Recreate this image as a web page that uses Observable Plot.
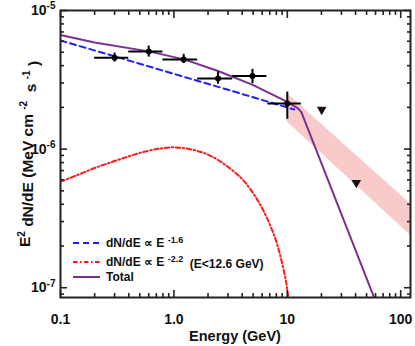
<!DOCTYPE html>
<html>
<head>
<meta charset="utf-8">
<script src="https://cdn.jsdelivr.net/npm/d3@7"></script>
<script src="https://cdn.jsdelivr.net/npm/@observablehq/plot@0.6"></script>
<style>
  body { margin: 0; background: #fff; }
  #chart { width: 415px; height: 346px; }
</style>
</head>
<body>
<div id="chart"></div>
<script>
// ---- tick definitions ----
const xMajor = [0.1, 1, 10, 100];
const xTickLabels = ["0.1", "1.0", "10", "100"];
const xMinor = [0.2, 0.3, 0.4, 0.5, 0.6, 0.7, 0.8, 0.9, 2, 3, 4, 5, 6, 7, 8, 9, 20, 30, 40, 50, 60, 70, 80, 90];
const yMajor = [1e-7, 1e-6, 1e-5];
const yTickExponents = ["-7", "-6", "-5"];
const yMinor = [9e-8, 2e-7, 3e-7, 4e-7, 5e-7, 6e-7, 7e-7, 8e-7, 9e-7, 2e-6, 3e-6, 4e-6, 5e-6, 6e-6, 7e-6, 8e-6, 9e-6];

// ---- data points (GeV, MeV cm^-2 s^-1) ----
const pointE   = [0.30, 0.60, 1.22, 2.45, 4.93, 10.0];
const pointElo = [0.20, 0.40, 0.80, 1.62, 3.30, 6.75];
const pointEhi = [0.40, 0.80, 1.62, 3.30, 6.60, 13.3];
const pointF   = [4.57e-6, 5.07e-6, 4.44e-6, 3.23e-6, 3.37e-6, 2.13e-6];
const pointFlo = [4.25e-6, 4.61e-6, 4.14e-6, 2.94e-6, 2.97e-6, 1.64e-6];
const pointFhi = [4.93e-6, 5.54e-6, 4.83e-6, 3.60e-6, 3.76e-6, 2.58e-6];

// upper limits
const limitE = [20.1, 40.6];
const limitF = [1.93e-6, 5.72e-7];

// shaded band
const bandE  = [10, 122];
const bandLo = [1.57e-6, 2.39e-7];
const bandHi = [2.52e-6, 4.02e-7];

// blue dashed component
const blueE = [0.1, 0.3, 1.0, 3.0, 11.5];
const blueF = [6.08e-6, 4.67e-6, 3.49e-6, 2.68e-6, 1.93e-6];

// red dash-dot component
const redE = [0.1, 0.141, 0.197, 0.277, 0.389, 0.546, 0.767, 1.0, 1.51, 2.12, 2.99, 4.19, 5.89, 7.72, 8.85, 9.80, 10.3];
const redF = [5.82e-7, 6.50e-7, 7.27e-7, 8.02e-7, 8.80e-7, 9.57e-7, 1.01e-6, 1.03e-6, 9.84e-7, 8.91e-7, 7.46e-7, 5.82e-7, 3.85e-7, 2.34e-7, 1.59e-7, 1.08e-7, 8.0e-8];

// total
const totalE = [0.1, 0.2, 0.6, 1.23, 2.45, 4.9, 10.0, 12.5, 13.3, 60];
const totalF = [6.66e-6, 5.88e-6, 5.07e-6, 4.44e-6, 3.66e-6, 2.92e-6, 2.19e-6, 1.96e-6, 1.85e-6, 8.0e-8];

// ---- build tables ----
const points = pointE.map((E, i) => ({E, Elo: pointElo[i], Ehi: pointEhi[i], F: pointF[i], Flo: pointFlo[i], Fhi: pointFhi[i]}));
const limits = limitE.map((E, i) => ({E, F: limitF[i]}));
const band = bandE.map((E, i) => ({E, lo: bandLo[i], hi: bandHi[i]}));
const blue = blueE.map((E, i) => ({E, F: blueF[i]}));
const red = redE.map((E, i) => ({E, F: redF[i]}));
const total = totalE.map((E, i) => ({E, F: totalF[i]}));

const C = {frame: "#222", blue: "#1f1fff", red: "#ff1a1a", purple: "#7b2f8f", band: "#f8caca", pts: "#000", lim: "#1a1010"};
const redDash = "4.5,2.5,1.5,2.5";
const blueDash = "6,4";
const xLabelMap = new Map(xMajor.map((v, i) => [v, xTickLabels[i]]));
const yLabelMap = new Map(yMajor.map((v, i) => [v, "10^" + yTickExponents[i]]));

const tickStyle = {stroke: C.frame, strokeWidth: 1.6, tickFormat: () => "", label: null};

const plot = Plot.plot({
  width: 415,
  height: 346,
  marginLeft: 60,
  marginRight: 5,
  marginTop: 10,
  marginBottom: 49,
  style: {fontFamily: "'Liberation Sans', Arial, sans-serif", fontWeight: "bold", fontSize: "14px", color: "#111", background: "#fff"},
  x: {type: "log", domain: [0.1, 122]},
  y: {type: "log", domain: [8.5e-8, 1e-5]},
  marks: [
    Plot.areaY(band, {x: "E", y1: "lo", y2: "hi", fill: C.band, clip: true}),
    Plot.line(red, {x: "E", y: "F", stroke: C.red, strokeWidth: 2, strokeDasharray: redDash, curve: "catmull-rom", clip: true}),
    Plot.line(blue, {x: "E", y: "F", stroke: C.blue, strokeWidth: 2, strokeDasharray: blueDash, clip: true}),
    Plot.line(total, {x: "E", y: "F", stroke: C.purple, strokeWidth: 2, curve: "linear", clip: true}),
    Plot.ruleY(points, {y: "F", x1: "Elo", x2: "Ehi", stroke: C.pts, strokeWidth: 2}),
    Plot.ruleX(points, {x: "E", y1: "Flo", y2: "Fhi", stroke: C.pts, strokeWidth: 2}),
    Plot.dot(points, {x: "E", y: "F", fill: C.pts, r: 3}),
    Plot.dot(limits, {x: "E", y: "F", symbol: "triangle", rotate: 180, fill: C.lim, r: 3.6}),
    Plot.frame({stroke: C.frame, strokeWidth: 2}),
    Plot.axisX(xMajor, {anchor: "bottom", tickSize: -7, ...tickStyle}),
    Plot.axisX(xMinor, {anchor: "bottom", tickSize: -4, ...tickStyle}),
    Plot.axisX(xMajor, {anchor: "top", tickSize: -7, ...tickStyle}),
    Plot.axisX(xMinor, {anchor: "top", tickSize: -4, ...tickStyle}),
    Plot.axisY(yMajor, {anchor: "left", tickSize: -7, ...tickStyle}),
    Plot.axisY(yMinor, {anchor: "left", tickSize: -4, ...tickStyle}),
    Plot.axisY(yMajor, {anchor: "right", tickSize: -7, ...tickStyle}),
    Plot.axisY(yMinor, {anchor: "right", tickSize: -4, ...tickStyle}),
    Plot.axisX(xMajor, {anchor: "bottom", tickSize: 0, tickPadding: 17, tickFormat: d => xLabelMap.get(d), label: null, fill: "#111"}),
    Plot.axisY(yMajor, {anchor: "left", tickSize: 0, tickPadding: 5, tickFormat: d => yLabelMap.get(d), label: null, fill: "#111"})
  ]
});

document.getElementById("chart").appendChild(plot);

const svg = d3.select(plot);
// superscripts for y tick labels
svg.selectAll("text").each(function() {
  const t = d3.select(this);
  const s = t.text();
  if (s.startsWith("10^")) {
    const exp = s.slice(3);
    t.text("10");
    t.append("tspan").attr("dy", "-0.55em").attr("font-size", "10px").text(exp);
  }
});

const font = "'Liberation Sans', Arial, sans-serif";
// x axis title
svg.append("text")
  .attr("x", 235).attr("y", 341)
  .attr("text-anchor", "middle")
  .attr("font-family", font).attr("font-weight", "bold").attr("font-size", "14.5px").attr("fill", "#111")
  .text("Energy (GeV)");

// y axis title
const yt = svg.append("text")
  .attr("transform", "translate(30,154) rotate(-90)")
  .attr("text-anchor", "middle")
  .attr("xml:space", "preserve")
  .attr("font-family", font).attr("font-weight", "bold").attr("font-size", "15.5px").attr("fill", "#111");
yt.append("tspan").text("E");
yt.append("tspan").attr("dy", "-0.5em").attr("font-size", "10px").text("2");
yt.append("tspan").attr("dy", "0.5em").text(" dN/dE (MeV cm ");
yt.append("tspan").attr("dy", "-0.55em").attr("font-size", "10px").text("-2");
yt.append("tspan").attr("dy", "0.55em").text("  s ");
yt.append("tspan").attr("dy", "-0.55em").attr("font-size", "10px").text("-1");
yt.append("tspan").attr("dy", "0.55em").text(" )");

// legend
const legend = svg.append("g").attr("font-family", font).attr("font-weight", "bold").attr("font-size", "12px").attr("fill", "#111").attr("text-anchor", "start");
const rows = [
  {y: 243, stroke: C.blue, dash: blueDash, main: "dN/dE \u221D E ", sup: "-1.6", tail: ""},
  {y: 262, stroke: C.red, dash: redDash, main: "dN/dE \u221D E ", sup: "-2.2", tail: "  (E<12.6 GeV)"},
  {y: 277, stroke: C.purple, dash: null, main: "Total", sup: "", tail: ""}
];
rows.forEach(r => {
  legend.append("line").attr("x1", 73).attr("x2", 100).attr("y1", r.y).attr("y2", r.y)
    .attr("stroke", r.stroke).attr("stroke-width", 2).attr("stroke-dasharray", r.dash);
  const t = legend.append("text").attr("x", 106).attr("y", r.y + 4.3).attr("xml:space", "preserve").attr("text-anchor", "start");
  t.append("tspan").text(r.main);
  if (r.sup) {
    t.append("tspan").attr("dy", "-0.5em").attr("font-size", "9px").text(r.sup);
    if (r.tail) t.append("tspan").attr("dy", "0.5em").text(r.tail);
  }
});
</script>
</body>
</html>
